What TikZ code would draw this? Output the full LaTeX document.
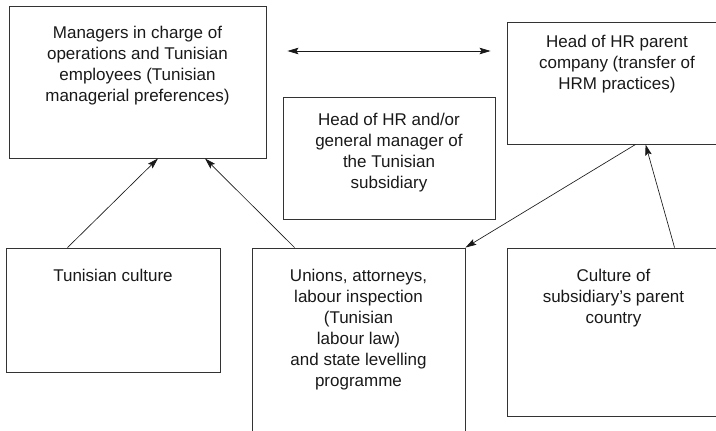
\documentclass[tikz,border=0pt]{standalone}
\usepackage{fontspec}
\setmainfont{Liberation Sans}
\usepackage{tikz}
\usetikzlibrary{positioning,arrows.meta}
\tikzstyle{block} = [draw=black!80, line width=0.9pt, rectangle, inner sep=0pt]
\tikzstyle{blocktext} = [anchor=north, align=center, inner sep=0pt, font=\fontsize{17pt}{21pt}\selectfont, text=black!90]
\tikzstyle{link} = [->, line width=0.65pt, draw=black!90]

\begin{document}
\begin{tikzpicture}[x=1pt, y=-1pt, >={Stealth[length=11pt,width=6.5pt,inset=2pt]}]
\useasboundingbox (0,0) rectangle (716,431);
\clip (0,0) rectangle (716,431);
% Nodes
	\node [block, minimum width=257pt, minimum height=152pt] (managers) at (137.5,82) {};
	\node [block, minimum width=220pt, minimum height=122pt] (parenthr) at (617,83) {};
	\node [block, minimum width=212pt, minimum height=122pt] (localhr) at (389,158) {};
	\node [block, minimum width=214pt, minimum height=124pt] (tunculture) at (113,310) {};
	\node [block, minimum width=213pt, minimum height=202pt] (unions) at (358.5,349) {};
	\node [block, minimum width=213pt, minimum height=168pt] (parentculture) at (613.5,332) {};
% Connections
	\draw [link, <->, shorten <=21pt, shorten >=16pt] ([yshift=31pt]managers.east) -- ([yshift=32pt]parenthr.west);
	\draw [link] ([xshift=62pt]tunculture.north west) -- ([xshift=20.5pt]managers.south);
	\draw [link] ([xshift=43pt]unions.north west) -- ([xshift=67.5pt]managers.south);
	\draw [link] ([xshift=129pt]parenthr.south west) -- (unions.north east);
	\draw [link] ([xshift=168pt]parentculture.north west) -- ([xshift=139pt]parenthr.south west);
% Notations
	\node [blocktext, below=20.6pt of managers.north] (managerstext) {Managers in charge of\\operations and Tunisian\\employees (Tunisian\\managerial preferences)};
	\node [blocktext, below=13.6pt of parenthr.north] (parenthrtext) {Head of HR parent\\company (transfer of\\HRM practices)};
	\node [blocktext, below=16.6pt of localhr.north] (localhrtext) {Head of HR and/or\\general manager of\\the Tunisian\\subsidiary};
	\node [blocktext, below=21.6pt of tunculture.north] (tunculturetext) {Tunisian culture};
	\node [blocktext, below=21.6pt of unions.north] (unionstext) {Unions, attorneys,\\labour inspection\\(Tunisian\\labour law)\\and state levelling\\programme};
	\node [blocktext, below=21.6pt of parentculture.north] (parentculturetext) {Culture of\\subsidiary’s parent\\country};
\end{tikzpicture}
\end{document}
